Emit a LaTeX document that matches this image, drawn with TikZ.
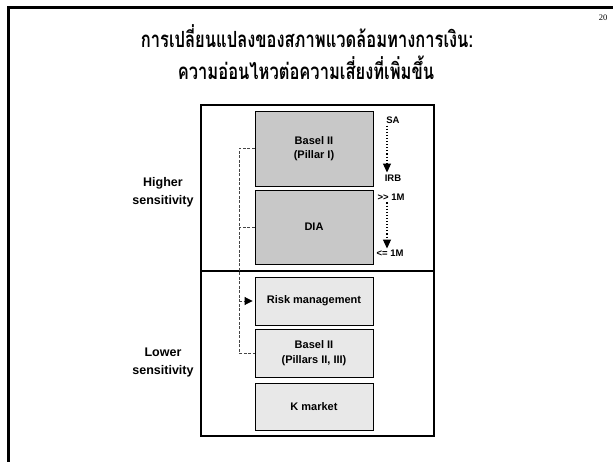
\documentclass[tikz,border=0pt]{standalone}
\usepackage{fontspec}
\usepackage{graphicx}
\setmainfont{Liberation Sans}
\newfontfamily\thaifont[Script=Thai]{Loma}
\newfontfamily\serifnum{Liberation Serif}
\usetikzlibrary{arrows.meta}
\definecolor{darkbox}{RGB}{200,200,200}
\definecolor{lightbox}{RGB}{232,232,232}
\definecolor{dashgray}{RGB}{70,70,70}
\begin{document}
\begin{tikzpicture}[x=1pt,y=-1pt,
  frameline/.style={line width=3pt,black},
  gbox/.style={draw=black,line width=0.9pt,fill=darkbox,minimum width=118pt,inner sep=0pt,align=center,font=\bfseries\fontsize{11}{14.5}\selectfont},
  lbox/.style={draw=black,line width=0.9pt,fill=lightbox,minimum width=118pt,inner sep=0pt,align=center,font=\bfseries\fontsize{11}{14.5}\selectfont},
  sidelabel/.style={align=center,font=\bfseries\fontsize{12.5}{18}\selectfont,inner sep=0pt},
  smalllabel/.style={font=\bfseries\fontsize{9.5}{10}\selectfont,inner sep=0pt},
  titletext/.style={font=\thaifont\bfseries\fontsize{16.5}{20}\selectfont,inner sep=0pt},
  dashlink/.style={dashgray,line width=0.9pt,dash pattern=on 3pt off 1.5pt},
  dotarrow/.style={black,line width=1.1pt,dotted,-{Triangle[length=9pt,width=8pt]}}
]
\useasboundingbox (0,0) rectangle (613,462);
% frame
\draw[frameline] (8,462) -- (8,8) -- (613,8);
% page number
\node[font=\serifnum\fontsize{8.5}{9}\selectfont,inner sep=0pt] (pnum) at (603,18) {20};
% title
\node[titletext,anchor=base] (title1) at (307,48) {\scalebox{1}[1.35]{การเปลี่ยนแปลงของสภาพแวดล้อมทางการเงิน:}};
\node[titletext,anchor=base] (title2) at (306,80) {\scalebox{1}[1.35]{ความอ่อนไหวต่อความเสี่ยงที่เพิ่มขึ้น}};
% main box
\draw[line width=1.4pt,black] (201,105) rectangle (434,436);
\coordinate (divl) at (201,271);
\coordinate (divr) at (434,271);
\draw[line width=2pt] (divl) -- (divr);
% boxes
\node[gbox,minimum height=75pt] (b1) at (314,148.5) {Basel II\\(Pillar I)};
\node[gbox,minimum height=74pt] (dia) at (314,227) {DIA};
\node[lbox,minimum height=48pt] (risk) at (314,301) {Risk management};
\node[lbox,minimum height=48pt] (b2) at (314,353) {Basel II\\(Pillars II, III)};
\node[lbox,minimum height=47pt] (km) at (314,406.5) {K market};
% side labels
\node[sidelabel] (hi) at (163,192) {Higher\\sensitivity};
\node[sidelabel] (lo) at (163,362) {Lower\\sensitivity};
% dashed connectors
\coordinate (vx) at (239,0);
\draw[dashlink] (b1.west) -- (b1.west -| vx) -- (b2.west -| vx) -- (b2.west);
\draw[dashlink] (dia.west) -- (dia.west -| vx);
\draw[dashlink,-{Triangle[length=8pt,width=8pt,color=black]},shorten >=2pt] (risk.west -| vx) -- (risk.west);
% right labels
\node[smalllabel] (sa) at (393,120) {SA};
\node[smalllabel] (irb) at (393,178) {IRB};
\node[smalllabel] (m1) at (391,197) {{>}{>} 1M};
\node[smalllabel] (m2) at (390,253) {<= 1M};
\coordinate (ax) at (387,0);
\draw[dotarrow,shorten <=2pt,shorten >=2pt] (sa.south -| ax) -- (irb.north -| ax);
\draw[dotarrow,shorten <=2pt,shorten >=1pt] (m1.south -| ax) -- (m2.north -| ax);
\end{tikzpicture}
\end{document}
